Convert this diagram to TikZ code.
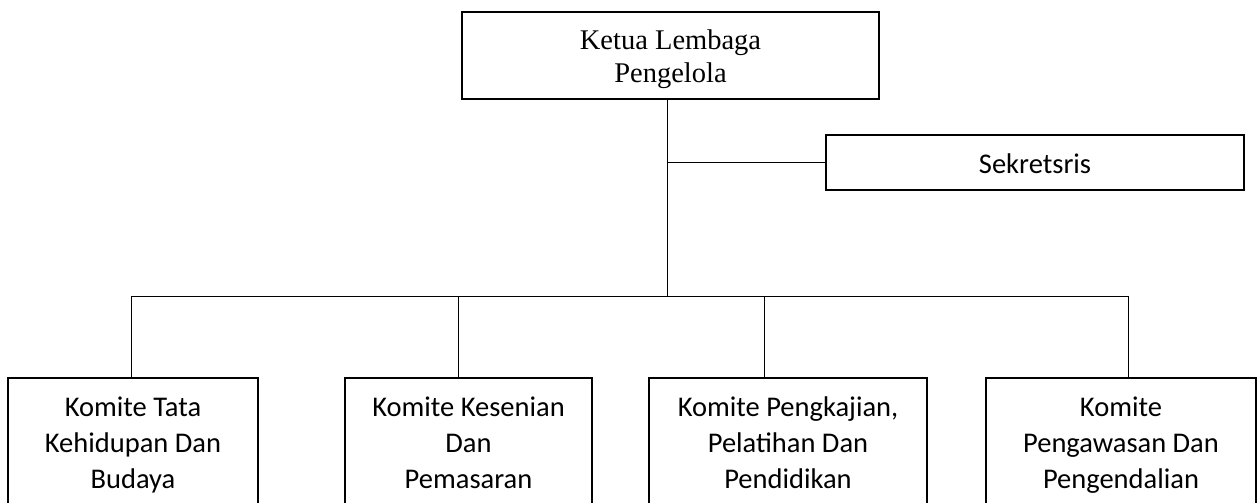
\documentclass[tikz,border=0pt]{standalone}
\usepackage{fontspec}
\setmainfont{Liberation Serif}
\newfontfamily\califont{Carlito}
\begin{document}
\begin{tikzpicture}[x=1pt,y=-1pt,
  boxstyle/.style={draw=black,line width=2.2pt,rectangle,inner sep=0pt,align=center},
  seriftext/.style={font=\fontsize{28.5}{33}\selectfont},
  sanstext/.style={font=\califont\fontsize{28.5}{36}\selectfont},
  conn/.style={draw=black,line width=1pt}]
\useasboundingbox (0,0) rectangle (1259,503);
\clip (0,0) rectangle (1259,503);
\node[boxstyle,seriftext,minimum width=417pt,minimum height=87pt] (top) at (670.5,55.5) {\rule{0pt}{30pt}Ketua Lembaga\\Pengelola\strut};
\node[boxstyle,sanstext,minimum width=418pt,minimum height=55pt] (sek) at (1035,162.5) {\rule[-10.8pt]{0pt}{43.8pt}Sekretsris};
\node[boxstyle,sanstext,minimum width=250pt,minimum height=135pt] (b1) at (133,445.5) {\strut Komite Tata\\\strut Kehidupan Dan\\\strut Budaya};
\node[boxstyle,sanstext,minimum width=247pt,minimum height=135pt] (b2) at (468.5,445.5) {\strut Komite Kesenian\\\strut Dan\\\strut Pemasaran};
\node[boxstyle,sanstext,minimum width=278pt,minimum height=135pt] (b3) at (788,445.5) {\strut Komite Pengkajian,\\\strut Pelatihan Dan\\\strut Pendidikan};
\node[boxstyle,sanstext,minimum width=270pt,minimum height=135pt] (b4) at (1121,445.5) {\strut Komite\\\strut Pengawasan Dan\\\strut Pengendalian};
\coordinate (m) at (667,296);
\coordinate (j1) at (131,296);
\coordinate (j2) at (458,296);
\coordinate (j3) at (764,296);
\coordinate (j4) at (1128,296);
\draw[conn] (m |- top.south) -- (m);
\draw[conn] (m |- sek.west) -- (sek.west);
\draw[conn] (j1) -- (j4);
\draw[conn] (j1) -- (j1 |- b1.north);
\draw[conn] (j2) -- (j2 |- b2.north);
\draw[conn] (j3) -- (j3 |- b3.north);
\draw[conn] (j4) -- (j4 |- b4.north);
\end{tikzpicture}
\end{document}
